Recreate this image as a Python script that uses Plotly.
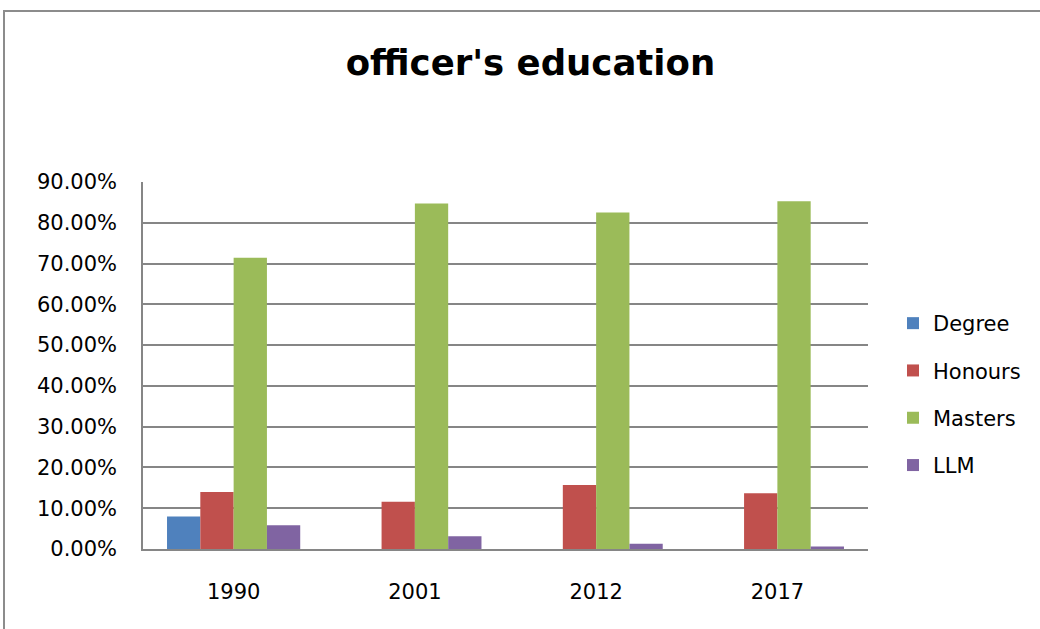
import plotly.graph_objects as go

years = ["1990", "2001", "2012", "2017"]
degree = [0.080, None, None, None]
honours = [0.140, 0.116, 0.157, 0.137]
masters = [0.714, 0.847, 0.825, 0.853]
llm = [0.058, 0.031, 0.013, 0.0064]

series = [
    ("Degree", degree, "#4F81BD"),
    ("Honours", honours, "#C0504D"),
    ("Masters", masters, "#9BBB59"),
    ("LLM", llm, "#8064A2"),
]

FONT = "DejaVu Sans"
GRID = "#868686"

fig = go.Figure()
for i, (name, vals, color) in enumerate(series):
    fig.add_trace(go.Bar(
        x=years, y=vals, name=name,
        marker=dict(color=color, line=dict(width=0)),
        legendgroup=name,
    ))

# plot area in pixels: x 143..868, y 182..549
L, R, T, B = 143, 868, 182, 549
W, H = 1040, 629
pw, ph = R - L, B - T

def px(xp):
    return (xp - L) / pw

def py(yp):
    return (B - yp) / ph

fig.update_layout(
    width=W, height=H,
    margin=dict(l=L, r=W - R, t=T, b=H - B, pad=0),
    paper_bgcolor="white", plot_bgcolor="white",
    barmode="group", bargap=0.265, bargroupgap=0,
    title=dict(
        text="<b>officer's education</b>",
        font=dict(family=FONT, size=35.5, color="black"),
        x=0.51, xanchor="center", y=1 - 63 / H, yanchor="middle",
    ),
    font=dict(family=FONT, size=21, color="black"),
    legend=dict(
        x=px(893), xanchor="left", y=py(303), yanchor="top",
        font=dict(family=FONT, size=21, color="black"),
        traceorder="grouped", tracegroupgap=17,
        bgcolor="rgba(0,0,0,0)",
    ),
    xaxis=dict(
        showgrid=False, showline=True, linecolor=GRID, linewidth=1.5,
        ticks="", ticklabelstandoff=23,
        tickfont=dict(family=FONT, size=21),
    ),
    yaxis=dict(
        range=[0, 0.9], dtick=0.1, tickformat=".2%",
        showgrid=True, gridcolor=GRID, gridwidth=1.5,
        showline=True, linecolor=GRID, linewidth=1.5,
        zeroline=False, ticks="", ticklabelstandoff=20,
        tickfont=dict(family=FONT, size=21),
    ),
    shapes=[
        dict(
            type="rect", xref="paper", yref="paper",
            x0=px(4), x1=px(1050), y0=py(640), y1=py(11),
            line=dict(color="#8C8C8C", width=2), fillcolor="rgba(0,0,0,0)",
            layer="below",
        )
    ],
)

fig.write_html("out.html")
